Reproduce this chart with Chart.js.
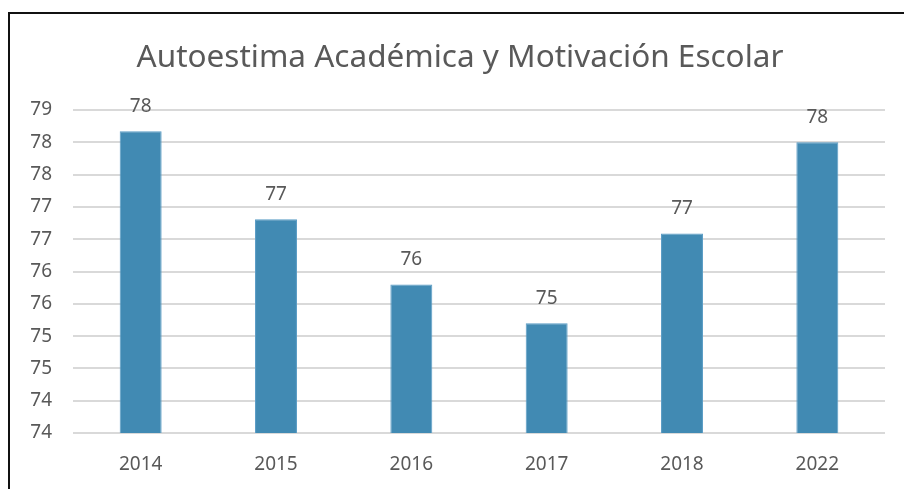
<!DOCTYPE html>
<html lang="es">
<head>
    <meta charset="UTF-8">
    <title>Autoestima Académica y Motivación Escolar</title>
    <script src="https://cdn.jsdelivr.net/npm/chart.js"></script>
    <style>
        body {
            margin: 0;
            background: #ffffff;
            width: 904px;
            height: 489px;
            overflow: hidden;
            position: relative;
        }
        .frame {
            position: absolute;
            left: 8px;
            top: 12px;
            width: 910px;
            height: 490px;
            border-top: 2px solid #111;
            border-left: 2px solid #111;
            pointer-events: none;
        }
        .chart-box {
            position: absolute;
            left: 0;
            top: 0;
            width: 904px;
            height: 489px;
        }
    </style>
</head>
<body>
    <div class="chart-box"><canvas id="chart" width="904" height="489"></canvas></div>
    <div class="frame"></div>

    <script>
        const chartTitle = 'Autoestima Académica y Motivación Escolar';
        const years = ['2014', '2015', '2016', '2017', '2018', '2022'];
        const scores = [78.17, 76.81, 75.80, 75.20, 76.59, 78.00];
        const yTickLabels = ['74', '74', '75', '75', '76', '76', '77', '77', '78', '78', '79'];

        const textColor = '#595959';
        const fontFamily = "'Noto Sans', 'Open Sans', sans-serif";

        // title, drawn where Excel put it (a bit right of the plot centre)
        const titleText = {
            id: 'titleText',
            afterDraw(chart) {
                const ctx = chart.ctx;
                ctx.save();
                ctx.font = `31.5px ${fontFamily}`;
                ctx.fillStyle = textColor;
                ctx.textAlign = 'center';
                ctx.textBaseline = 'middle';
                ctx.fillText(chartTitle, 460, 58);
                ctx.restore();
            }
        };

        // value labels above each bar
        const barLabels = {
            id: 'barLabels',
            afterDatasetsDraw(chart) {
                const ctx = chart.ctx;
                const meta = chart.getDatasetMeta(0);
                ctx.save();
                ctx.font = `19px ${fontFamily}`;
                ctx.fillStyle = textColor;
                ctx.textAlign = 'center';
                ctx.textBaseline = 'middle';
                meta.data.forEach((bar, i) => {
                    ctx.fillText(Math.round(scores[i]), bar.x, bar.y - 25);
                });
                ctx.restore();
            }
        };

        new Chart(document.getElementById('chart'), {
            type: 'bar',
            data: {
                labels: years,
                datasets: [{
                    data: scores,
                    backgroundColor: '#418ab3',
                    borderColor: '#5a9cc5',
                    borderWidth: 1,
                    barPercentage: 0.31,
                    categoryPercentage: 1
                }]
            },
            options: {
                responsive: false,
                animation: false,
                layout: {padding: {left: 0, right: 19, top: 110, bottom: 0}},
                plugins: {
                    legend: {display: false},
                    tooltip: {enabled: false},
                    title: {display: false}
                },
                scales: {
                    x: {
                        afterFit(scale) { scale.height = 56; },
                        grid: {display: false, drawTicks: false},
                        border: {display: false},
                        ticks: {color: textColor, font: {family: fontFamily, size: 19}, padding: 20, maxRotation: 0}
                    },
                    y: {
                        min: 73.5,
                        max: 78.5,
                        afterFit(scale) { scale.width = 73; },
                        grid: {color: '#d9d9d9', lineWidth: 2, drawTicks: false},
                        border: {display: false},
                        ticks: {
                            stepSize: 0.5,
                            color: textColor,
                            font: {family: fontFamily, size: 19},
                            padding: 21,
                            callback: (v, i) => yTickLabels[i]
                        }
                    }
                }
            },
            plugins: [barLabels, titleText]
        });
    </script>
</body>
</html>
